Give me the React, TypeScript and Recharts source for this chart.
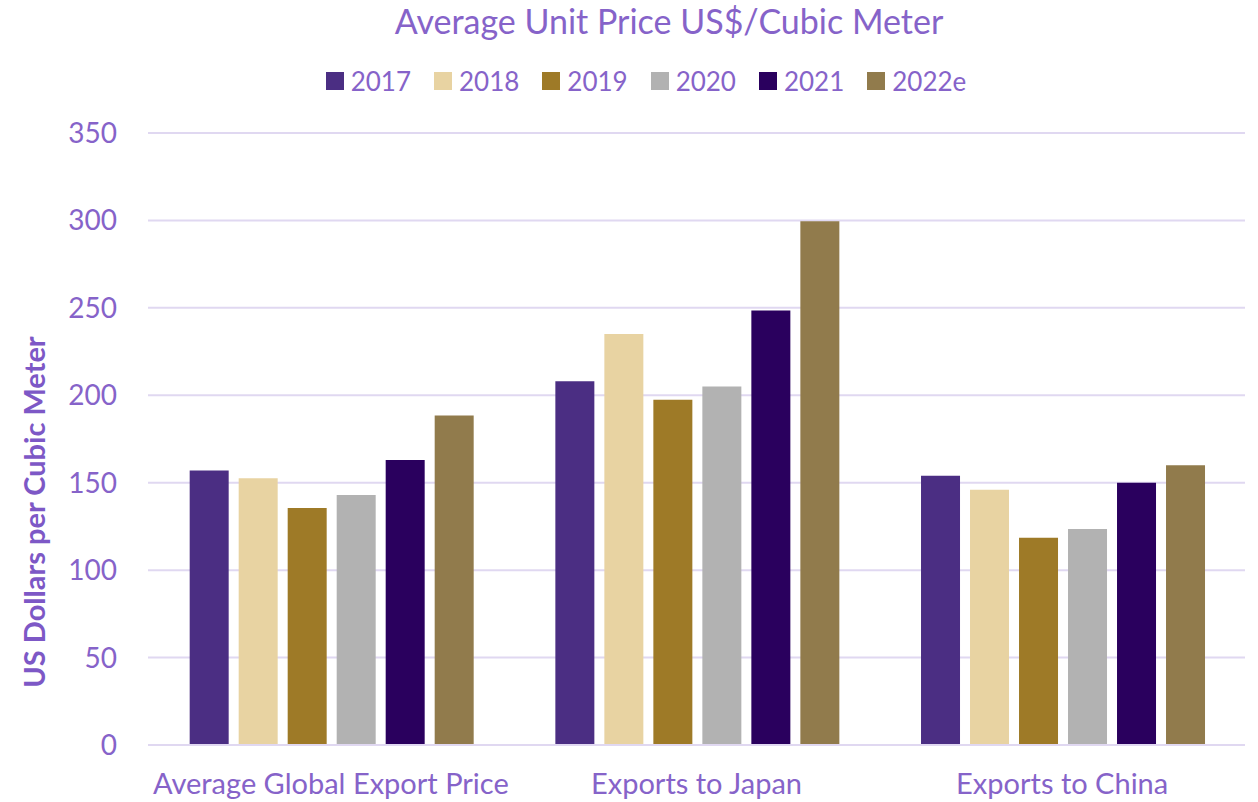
import { BarChart, Bar, XAxis, YAxis, CartesianGrid, Legend, Label } from "recharts";

const categories = ["Average Global Export Price", "Exports to Japan", "Exports to China"];
const years = ["2017", "2018", "2019", "2020", "2021", "2022e"];

const price2017 = [157, 208, 154];
const price2018 = [152.5, 235, 146];
const price2019 = [135.5, 197.5, 118.5];
const price2020 = [143, 205, 123.5];
const price2021 = [163, 248.5, 150];
const price2022e = [188.5, 299.5, 160];

const yTicks = [0, 50, 100, 150, 200, 250, 300, 350];

const colors = ["#4B2E83", "#E8D3A2", "#9E7A27", "#B2B2B2", "#2A005E", "#917B4C"];
const textColor = "#8663C9";
const gridColor = "#E0D8F1";
const font = "Lato, 'Open Sans', sans-serif";

const seriesValues = [price2017, price2018, price2019, price2020, price2021, price2022e];

const chartData = categories.map((name, i) => {
  const row: Record<string, string | number> = { name };
  years.forEach((y, s) => {
    row[y] = seriesValues[s][i];
  });
  return row;
});

function LegendBox(props: any) {
  const items = props.payload || [];
  return (
    <div style={{ display: "flex", justifyContent: "center", gap: 23, fontFamily: font, fontSize: 26, color: textColor }}>
      {items.map((it: any) => (
        <div key={it.value} style={{ display: "flex", alignItems: "center" }}>
          <span style={{ width: 18, height: 18, background: it.color, display: "inline-block", marginRight: 7 }} />
          <span>{it.value}</span>
        </div>
      ))}
    </div>
  );
}

function YTitle(props: any) {
  const x = 33;
  const y = 512;
  return (
    <text
      x={x}
      y={y}
      transform={`rotate(-90 ${x} ${y})`}
      textAnchor="middle"
      dominantBaseline="central"
      fill="#7D58C6"
      fontFamily={font}
      fontWeight="bold"
      fontSize={29}
    >
      US Dollars per Cubic Meter
    </text>
  );
}

export default function App() {
  return (
    <div style={{ position: "absolute", left: 0, top: 0, width: 1258, height: 802, background: "#fff" }}>
      <div
        style={{
          position: "absolute",
          top: 0,
          left: 0,
          width: 1258,
          textAlign: "center",
          fontFamily: font,
          fontSize: 34,
          color: textColor,
          paddingLeft: 80,
          boxSizing: "border-box",
        }}
      >
        Average Unit Price US$/Cubic Meter
      </div>
      <BarChart
        width={1258}
        height={802}
        data={chartData}
        margin={{ top: 101, right: 13, bottom: 27, left: 0 }}
        barCategoryGap="11.4%"
        barGap={10}
      >
        <CartesianGrid vertical={false} stroke={gridColor} strokeWidth={2} />
        <XAxis
          dataKey="name"
          axisLine={{ stroke: gridColor, strokeWidth: 2 }}
          tickLine={false}
          tickMargin={22}
          tick={{ fill: textColor, fontSize: 29, fontFamily: font }}
          interval={0}
        />
        <YAxis
          width={148}
          domain={[0, 350]}
          ticks={yTicks}
          axisLine={false}
          tickLine={false}
          tickMargin={25}
          tick={{ fill: textColor, fontSize: 28, fontFamily: font }}
        >
          <Label content={YTitle} />
        </YAxis>
        <Legend
          verticalAlign="top"
          content={LegendBox}
          wrapperStyle={{ position: "absolute", top: 65, left: 0, width: 1258, paddingLeft: 34, boxSizing: "border-box" }}
        />
        {years.map((y, s) => (
          <Bar key={y} dataKey={y} fill={colors[s]} isAnimationActive={false} />
        ))}
      </BarChart>
    </div>
  );
}
